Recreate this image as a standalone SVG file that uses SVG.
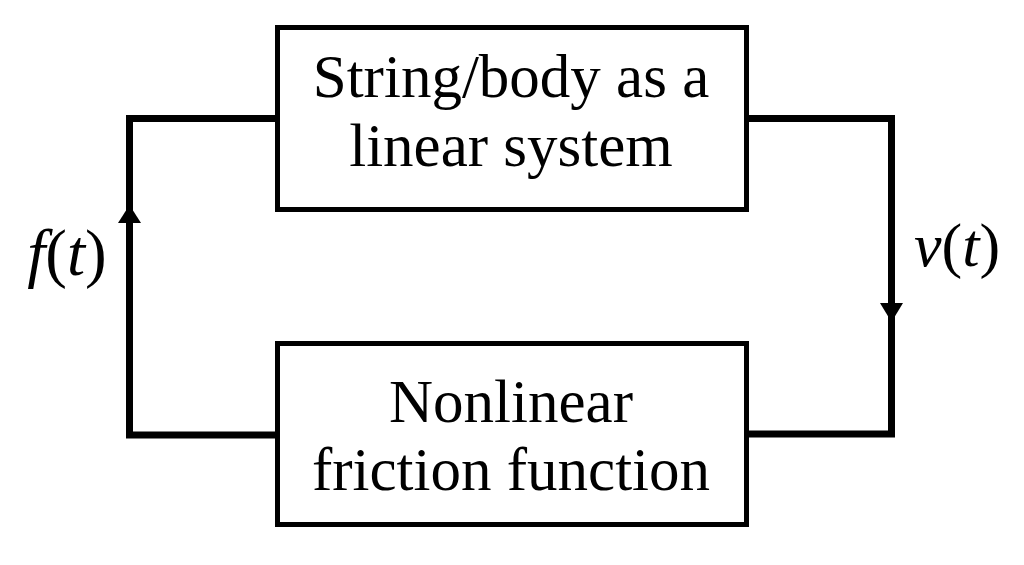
<svg xmlns="http://www.w3.org/2000/svg" width="1024" height="565" viewBox="0 0 1024 565">
<style>
.box{fill:#fff;stroke:#000;stroke-width:5}
.wire{fill:none;stroke:#000;stroke-width:7;stroke-linejoin:miter}
.t{font-family:"Liberation Serif","Times New Roman",serif;font-size:61px;fill:#000;text-anchor:middle}
.i{font-style:italic}
</style>
<rect width="1024" height="565" fill="#fff"/>
<g id="connectors">
<polyline class="wire" points="277,118.5 129.5,118.5 129.5,435 277,435"/>
<polyline class="wire" points="747,118.5 891.5,118.5 891.5,434 747,434"/>
<polygon points="129.5,205 118,223 141,223" fill="#000"/>
<polygon points="891.5,322 880,303 903,303" fill="#000"/>
</g>
<g id="node-linear">
<rect class="box" x="277.5" y="27.5" width="469" height="182"/>
<text class="t" x="511" y="97">String/body as a</text>
<text class="t" x="511" y="166">linear system</text>
</g>
<g id="node-nonlinear">
<rect class="box" x="277.5" y="343.5" width="469" height="181"/>
<text class="t" x="511" y="422">Nonlinear</text>
<text class="t" x="511" y="490">friction function</text>
</g>
<g id="label-f">
<text class="t" x="67" y="275" style="font-size:65px"><tspan class="i">f</tspan>(<tspan class="i">t</tspan>)</text>
</g>
<g id="label-v">
<text class="t" x="957" y="266" style="font-size:62px"><tspan class="i">v</tspan>(<tspan class="i">t</tspan>)</text>
</g>
</svg>
